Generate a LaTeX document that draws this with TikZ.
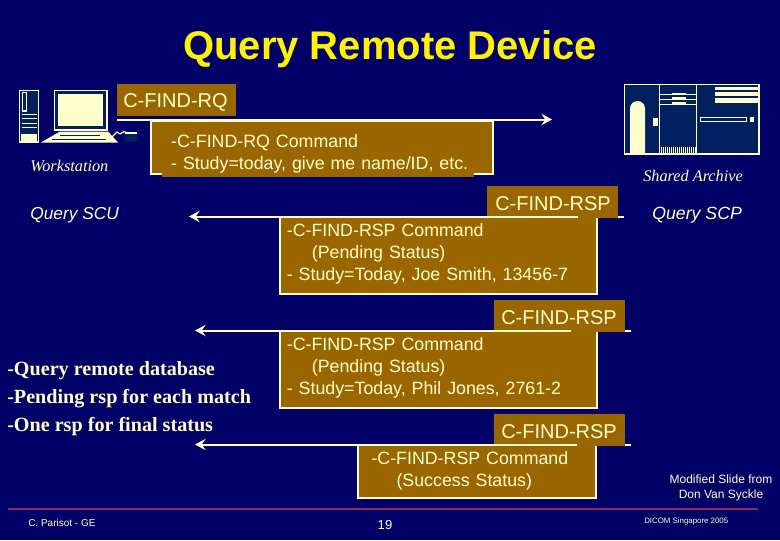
\documentclass[tikz,border=0pt]{standalone}
\usepackage{fontspec}
\setmainfont{Liberation Sans}
\newfontfamily\timesface{Liberation Serif}
\usetikzlibrary{arrows.meta}
\definecolor{navy}{HTML}{000066}
\definecolor{brownbox}{HTML}{996600}
\definecolor{cream}{HTML}{FFFFCC}
\definecolor{icondark}{HTML}{00205F}
\definecolor{rulecol}{HTML}{8B2A6B}
\newcommand{\pxfont}[2]{\fontsize{#1}{#2}\selectfont}
\newcommand{\toppad}[1]{\rule{0pt}{#1}}
\newcommand{\botpad}[1]{\rule[-#1]{0pt}{#1}}
\tikzset{
  x=0.75pt,y=-0.75pt,
  txt/.style={inner sep=0pt,anchor=base west,text=cream},
  lab/.style={txt,font=\pxfont{15}{18}},
  tag/.style={fill=brownbox,draw=none,inner sep=0pt,anchor=north west},
  cmdbox/.style={fill=brownbox,draw=cream,line width=1.5pt,anchor=north west,inner ysep=0pt,
    align=left,text=cream,font=\pxfont{13.35}{16.5}},
  flow/.style={draw=cream,line width=1.5pt,-{Stealth[length=8pt,width=8.5pt,inset=3pt]}},
  patch/.style={fill=brownbox,draw=none},
  iconline/.style={draw=cream,line width=0.9pt},
  iconfill/.style={fill=cream,draw=none},
}
\begin{document}
\begin{tikzpicture}
\useasboundingbox[fill=navy] (0,0) rectangle (780,540);
% title
\node[inner sep=0pt,anchor=base,text=yellow,font=\pxfont{30}{36}\bfseries] (title) at (390,59) {Query Remote Device};
% workstation icon
\draw[iconline,fill=icondark] (19.5,90.5) rectangle (38.5,142);
\draw[iconline] (22.5,92.5) rectangle (26.5,111);
\foreach \yy in {114,118.5,123,127.5}{\draw[draw=cream,line width=0.6pt] (22,\yy) -- (37,\yy);}
\fill[cream] (21,134) rectangle (37,141);
\draw[iconline,fill=icondark] (54.5,90.5) rectangle (107,130);
\fill[cream] (58,93.5) rectangle (103,125.5);
\fill[cream] (41,142.5) -- (60,131.5) -- (108,131.5) -- (118,142.5) -- cycle;
\draw[icondark,line width=0.7pt] (60,135) -- (100,135) (52,139) -- (106,139);
\draw[cream,line width=0.9pt] (108,135) -- (112,137) -- (117,132) -- (120,134) -- (124,131.5) -- (127,133);
\fill[cream] (125,131.5) rectangle (137,134);
\fill[icondark] (124,134) rectangle (137,142);
% archive icon
\draw[iconline,fill=icondark] (624.5,84.5) rectangle (759,154);
\draw[iconline] (659.5,84.5) -- (659.5,154) (696.5,84.5) -- (696.5,154);
\fill[cream] (630,154) -- (630,108.5) arc[start angle=180,end angle=360,radius=7.5] -- (645,154) -- cycle;
\fill[cream] (653,118) rectangle (657.5,126);
\foreach \yy in {94.5,99.5,104.5}{\draw[draw=cream,line width=0.7pt] (660,\yy) -- (696,\yy);}
\fill[cream] (672,93) rectangle (686,95);
\fill[cream] (672,97) rectangle (686,100);
\fill[cream] (672,102) rectangle (686,104);
\foreach \xx in {661,663,...,695}{\draw[draw=cream,line width=0.75pt] (\xx,147) -- (\xx,153);}
\fill[cream] (715,87) rectangle (759,90);
\fill[cream] (715,91.5) rectangle (759,96);
\fill[cream] (715,97.5) rectangle (759,103);
\draw[iconline] (700.5,117.5) rectangle (746.5,121.5);
\fill[cream] (750,117) rectangle (754,122);
% icon captions
\node[txt,font=\timesface\itshape\pxfont{12.2}{14}] (wslabel) at (30,171) {Workstation};
\node[txt,font=\timesface\itshape\pxfont{12.2}{14}] (salabel) at (643,181) {Shared Archive};
\node[txt,font=\itshape\pxfont{13}{16}] (scu) at (30,219) {Query SCU};
\node[txt,font=\itshape\pxfont{13.3}{16}] (scp) at (652,219) {Query SCP};
% list
\node[txt,font=\timesface\bfseries\pxfont{15.1}{21},align=left,anchor=north west] (list) at (7,361)
  {-Query remote database\\-Pending rsp for each match\\-One rsp for final status};
% endpoints
\coordinate (rqfrom) at (117,119.5);
\coordinate (rqto) at (552,119.5);
\coordinate (r1from) at (624,216.5);
\coordinate (r1to) at (189,216.5);
\coordinate (r2from) at (631,330.5);
\coordinate (r2to) at (195,330.5);
\coordinate (r3from) at (631,444.5);
\coordinate (r3to) at (195,444.5);
% tags
\node[tag,minimum width=89.25pt,minimum height=24pt] (tagrq) at (117,84) {};
\node[lab] at (123,107) {C-FIND-RQ};
\node[tag,minimum width=98.25pt,minimum height=23.25pt] (tagr1) at (487,186) {};
\node[lab] at (495,210) {C-FIND-RSP};
\node[tag,minimum width=98.25pt,minimum height=22.5pt] (tagr2) at (494,300) {};
\node[lab] at (501,324) {C-FIND-RSP};
\node[tag,minimum width=98.25pt,minimum height=23.25pt] (tagr3) at (494,414) {};
\node[lab] at (501,438) {C-FIND-RSP};
% flows
\draw[flow] (rqfrom) -- (rqto);
\draw[flow] (r1from) -- (r1to);
\draw[flow] (r2from) -- (r2to);
\draw[flow] (r3from) -- (r3to);
% command boxes
\node[cmdbox,inner xsep=15.5pt,text width=225.5pt,minimum height=40pt] (cmdrq) at (149.5,119.5)
  {\toppad{20.5pt}-C-FIND-RQ Command\\- Study=today, give me name/ID, etc.};
\node[cmdbox,inner xsep=5.5pt,text width=227pt,minimum height=58pt] (cmdr1) at (278.5,216)
  {-C-FIND-RSP Command\\\hspace*{18.75pt}(Pending Status)\\- Study=Today, Joe Smith, 13456-7\botpad{6pt}};
\node[cmdbox,inner xsep=5.5pt,text width=227pt,minimum height=58pt] (cmdr2) at (278.5,330)
  {-C-FIND-RSP Command\\\hspace*{18.75pt}(Pending Status)\\- Study=Today, Phil Jones, 2761-2\botpad{5.5pt}};
\node[cmdbox,inner xsep=10.5pt,text width=158pt,minimum height=39.5pt] (cmdr3) at (356.5,444)
  {-C-FIND-RSP Command\\\hspace*{18.75pt}(Success Status)\botpad{2.5pt}};
% overlaps
\fill[patch] (162,172.5) rectangle (474,177);
\fill[patch] (578,214) rectangle (618,218);
\fill[patch] (571,328) rectangle (625,332);
\fill[patch] (577,442) rectangle (625,446);
% footer
\coordinate (rulea) at (8,509);
\coordinate (ruleb) at (758,509);
\draw[rulecol,line width=0.8pt] (rulea) -- (ruleb);
\node[inner sep=0pt,anchor=center,align=center,text=cream,font=\pxfont{9}{11.25}] (credit) at (721,487.5) {Modified Slide from\\Don Van Syckle};
\node[txt,font=\pxfont{7.5}{9}] (author) at (28,526) {C. Parisot - GE};
\node[txt,anchor=base,font=\pxfont{9.8}{11}] (pageno) at (385,529) {19};
\node[txt,font=\pxfont{5.9}{7}] (event) at (644,523) {DICOM Singapore 2005};
\end{tikzpicture}
\end{document}
